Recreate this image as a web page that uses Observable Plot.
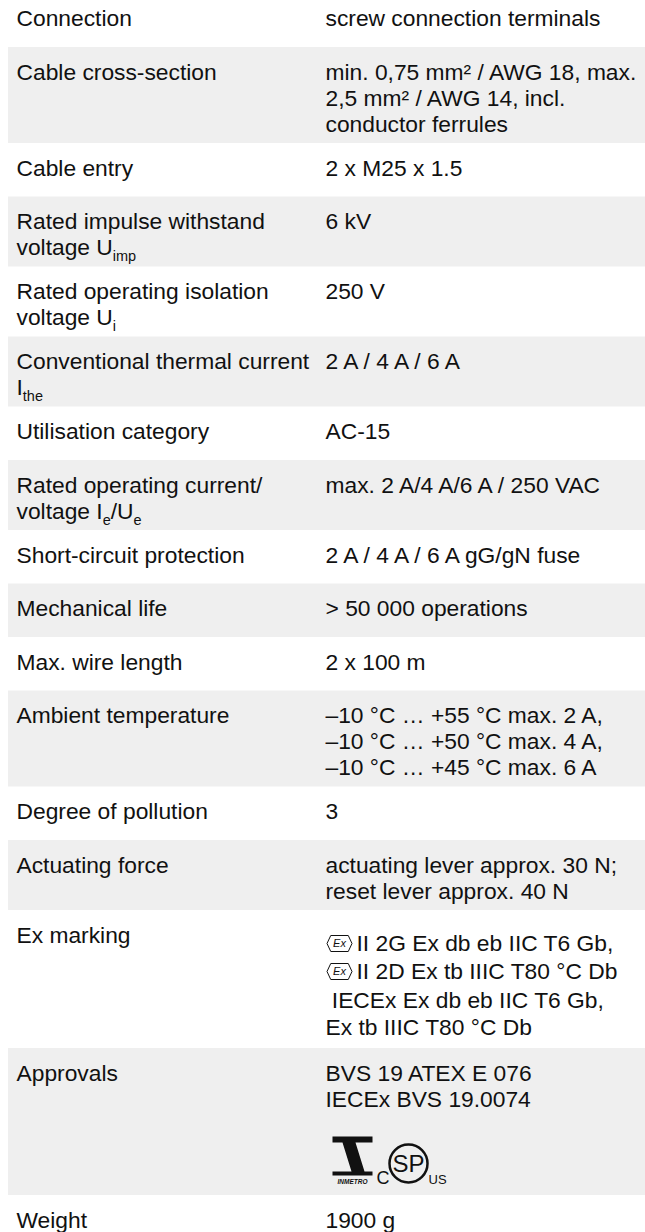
<!DOCTYPE html>
<html>
<head>
<meta charset="utf-8">
<script src="https://cdn.jsdelivr.net/npm/d3@7"></script>
<script src="https://cdn.jsdelivr.net/npm/@observablehq/plot@0.6"></script>
<style>
  html, body { margin: 0; padding: 0; background: #ffffff; }
  #chart svg { display: block; }
</style>
</head>
<body>
<div id="chart"></div>
<script>
// ---- Data ----
const labels = [
  ["Connection"],
  ["Cable cross-section"],
  ["Cable entry"],
  ["Rated impulse withstand", "voltage U_{imp}"],
  ["Rated operating isolation", "voltage U_{i}"],
  ["Conventional thermal current", "I_{the}"],
  ["Utilisation category"],
  ["Rated operating current/", "voltage I_{e}/U_{e}"],
  ["Short-circuit protection"],
  ["Mechanical life"],
  ["Max. wire length"],
  ["Ambient temperature"],
  ["Degree of pollution"],
  ["Actuating force"],
  ["Ex marking"],
  ["Approvals"],
  ["Weight"]
];
const values = [
  ["screw connection terminals"],
  ["min. 0,75 mm² / AWG 18, max.", "2,5 mm² / AWG 14, incl.", "conductor ferrules"],
  ["2 x M25 x 1.5"],
  ["6 kV"],
  ["250 V"],
  ["2 A / 4 A / 6 A"],
  ["AC-15"],
  ["max. 2 A/4 A/6 A / 250 VAC"],
  ["2 A / 4 A / 6 A gG/gN fuse"],
  ["> 50 000 operations"],
  ["2 x 100 m"],
  ["–10 °C … +55 °C max. 2 A,", "–10 °C … +50 °C max. 4 A,", "–10 °C … +45 °C max. 6 A"],
  ["3"],
  ["actuating lever approx. 30 N;", "reset lever approx. 40 N"],
  ["II 2G Ex db eb IIC T6 Gb,", "II 2D Ex tb IIIC T80 °C Db", " IECEx Ex db eb IIC T6 Gb,", "Ex tb IIIC T80 °C Db"],
  ["BVS 19 ATEX E 076", "IECEx BVS 19.0074"],
  ["1900 g"]
];
const exIconLines = [0, 1];          // lines of the Ex marking value preceded by the Ex hexagon
const exRow = 14, approvalsRow = 15;
const approvalMarks = {c: "C", csa: "SP", us: "US", inmetro: "INMETRO", ex: "Ex"};

// ---- Layout ----
const W = 645, H = 1232;
const labelX = 16, valueX = 325, bandX = 8;
const fontSize = 22.8, subSize = 14.5, lineGap = 26, firstBase = 32, rowPad = 18, minRow = 53.5;
const extra = {[exRow]: 16, [approvalsRow]: 77};
const exOffsets = [40, 68, 97, 124];

let cursor = 47 - minRow;
const rows = labels.map((lab, i) => {
  const n = Math.max(lab.length, values[i].length);
  const h = Math.max(minRow, rowPad + lineGap * n) + (extra[i] || 0);
  const r = {i, y0: cursor, y1: cursor + h, gray: i % 2 === 1};
  cursor += h;
  return r;
});

const labelLines = [];
labels.forEach((lab, i) => lab.forEach((t, j) =>
  labelLines.push({x: labelX, y: rows[i].y0 + firstBase + lineGap * j, text: t})));

const valueLines = [];
const exIcons = [];
values.forEach((val, i) => val.forEach((t, j) => {
  let y = rows[i].y0 + firstBase + lineGap * j;
  let x = valueX;
  if (i === exRow) {
    y = rows[i].y0 + exOffsets[j];
    if (exIconLines.includes(j)) {
      exIcons.push({x: valueX + 14, y: y - 7, text: approvalMarks.ex});
      x = valueX + 31;
    }
  }
  valueLines.push({x, y, text: t});
}));

// approvals logos
const aBase = rows[approvalsRow].y0 + 135;
const inmetro = [{x: valueX + 27, y: aBase - 27}];
const inmetroText = [{x: valueX + 27, y: aBase, text: approvalMarks.inmetro}];
const cText = [{x: valueX + 51, y: aBase, text: approvalMarks.c}];
const csa = [{x: valueX + 83, y: aBase - 20}];
const csaText = [{x: valueX + 83, y: aBase - 19, text: approvalMarks.csa}];
const usText = [{x: valueX + 103, y: aBase, text: approvalMarks.us}];

// custom symbols
const exSymbol = {
  draw(ctx, size) {
    const r = Math.sqrt(size / Math.PI);
    const w = r, h = r * 0.64, k = r * 0.3;
    ctx.moveTo(-w, 0); ctx.lineTo(-w + k, -h); ctx.lineTo(w - k, -h);
    ctx.lineTo(w, 0); ctx.lineTo(w - k, h); ctx.lineTo(-w + k, h); ctx.closePath();
  }
};
const inmetroSymbol = {
  draw(ctx, size) {
    const s = Math.sqrt(size / Math.PI) / 20;
    ctx.moveTo(-20 * s, -20 * s); ctx.lineTo(20 * s, -20 * s); ctx.lineTo(20 * s, -14 * s); ctx.lineTo(-20 * s, -14 * s); ctx.closePath();
    ctx.moveTo(-10 * s, -14 * s); ctx.lineTo(3 * s, -14 * s); ctx.lineTo(12 * s, 15 * s); ctx.lineTo(-1 * s, 15 * s); ctx.closePath();
    ctx.moveTo(-20 * s, 15 * s); ctx.lineTo(20 * s, 15 * s); ctx.lineTo(20 * s, 19 * s); ctx.lineTo(-20 * s, 19 * s); ctx.closePath();
  }
};

const ink = "#111111";
const chart = Plot.plot({
  width: W,
  height: H,
  margin: 0,
  x: {domain: [0, W], range: [0, W], axis: null},
  y: {domain: [0, H], range: [0, H], axis: null},
  style: {fontFamily: "'Liberation Sans', Arial, Helvetica, sans-serif", background: "#ffffff", color: ink},
  marks: [
    Plot.rect(rows.filter(d => d.gray), {x1: bandX, x2: W, y1: "y0", y2: "y1", fill: "#efefef"}),
    Plot.text(labelLines, {x: "x", y: "y", text: "text", textAnchor: "start", lineAnchor: "bottom", fontSize, fill: ink}),
    Plot.text(valueLines, {x: "x", y: "y", text: "text", textAnchor: "start", lineAnchor: "bottom", fontSize, fill: ink}),
    Plot.dot(exIcons, {x: "x", y: "y", r: 12.5, symbol: exSymbol, stroke: ink, strokeWidth: 1, fill: "none"}),
    Plot.text(exIcons, {x: "x", y: "y", text: "text", fontSize: 11, fontStyle: "italic", fill: ink}),
    Plot.dot(inmetro, {x: "x", y: "y", r: 20, symbol: inmetroSymbol, fill: ink, stroke: "none"}),
    Plot.text(inmetroText, {x: "x", y: "y", text: "text", fontSize: 6.5, fontStyle: "italic", fontWeight: "bold", lineAnchor: "bottom", fill: ink}),
    Plot.text(cText, {x: "x", y: "y", text: "text", textAnchor: "start", lineAnchor: "bottom", fontSize: 18, fill: ink}),
    Plot.dot(csa, {x: "x", y: "y", r: 19, stroke: ink, strokeWidth: 2.5, fill: "none"}),
    Plot.text(csaText, {x: "x", y: "y", text: "text", fontSize: 24, fontWeight: "normal", fill: ink}),
    Plot.text(usText, {x: "x", y: "y", text: "text", textAnchor: "start", lineAnchor: "bottom", fontSize: 13, fill: ink})
  ]
});

// subscripts: turn "_{...}" into lowered, smaller tspans
const NS = "http://www.w3.org/2000/svg";
chart.querySelectorAll("text").forEach(t => {
  const s = t.textContent;
  if (!s.includes("_{")) return;
  const parts = s.split(/(_\{[^}]*\})/);
  t.textContent = "";
  let lowered = false;
  parts.forEach(p => {
    if (!p) return;
    const ts = document.createElementNS(NS, "tspan");
    if (p.startsWith("_{")) {
      ts.textContent = p.slice(2, -1);
      ts.setAttribute("font-size", subSize);
      ts.setAttribute("dy", lowered ? 0 : 6);
      lowered = true;
    } else {
      ts.textContent = p;
      if (lowered) { ts.setAttribute("dy", -6); lowered = false; }
    }
    t.appendChild(ts);
  });
});

document.getElementById("chart").appendChild(chart);
</script>
</body>
</html>
